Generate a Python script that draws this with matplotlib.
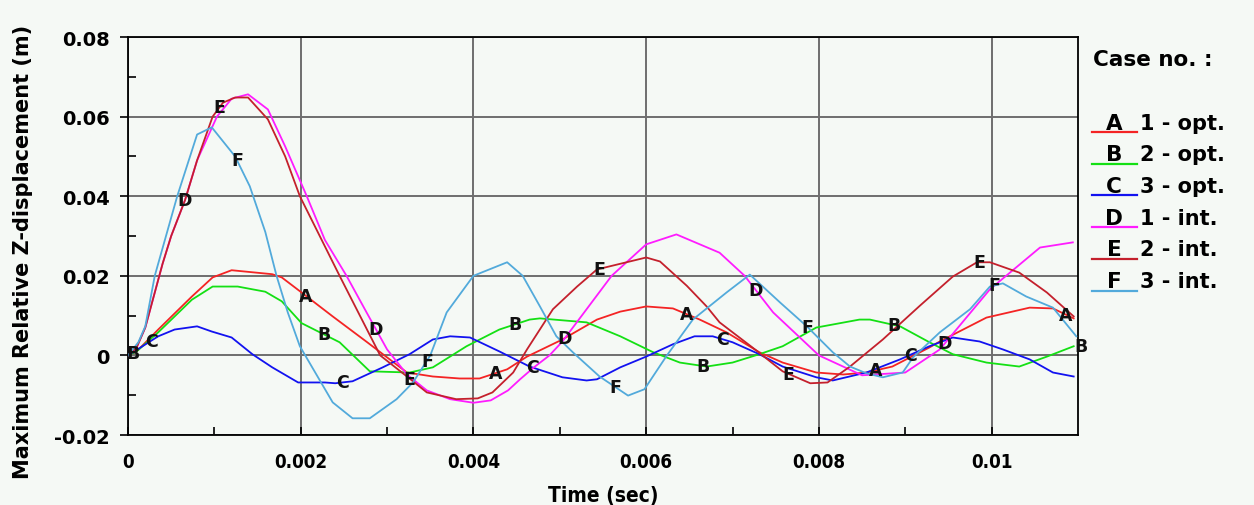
import numpy as np
import matplotlib
matplotlib.use("Agg")
import matplotlib.pyplot as plt
from matplotlib.lines import Line2D

# ---- data (time in s, displacement in m) ----
tA = [0, 0.0001, 0.00035, 0.00074, 0.00098, 0.0012, 0.00167, 0.00178, 0.00201, 0.00237,
      0.00277, 0.00323, 0.00353, 0.00384, 0.00407, 0.00439, 0.00462, 0.00503, 0.00543, 0.0057,
      0.006, 0.00631, 0.00662, 0.00693, 0.00731, 0.00758, 0.00797, 0.00828, 0.00855, 0.00885,
      0.00928, 0.0094, 0.00994, 0.01044, 0.01071, 0.01095]
yA = [0, 0.001, 0.0065, 0.0148, 0.0196, 0.0214, 0.0204, 0.0196, 0.0158, 0.0098,
      0.0033, -0.0043, -0.0053, -0.0058, -0.0058, -0.0035, -0.0003, 0.004, 0.009, 0.011,
      0.0123, 0.0118, 0.009, 0.0058, 0.0008, -0.0018, -0.0043, -0.0048, -0.0043, -0.0028,
      0.002, 0.0035, 0.0095, 0.012, 0.0118, 0.0093]

tB = [0, 0.0001, 0.00035, 0.00074, 0.00098, 0.00127, 0.00159, 0.00178, 0.00201, 0.00245,
      0.0028, 0.00326, 0.00353, 0.00392, 0.0043, 0.00465, 0.00477, 0.00531, 0.0057, 0.00608,
      0.00639, 0.0067, 0.007, 0.00731, 0.00758, 0.00797, 0.00847, 0.00859, 0.00894, 0.00928,
      0.00955, 0.00994, 0.01032, 0.01064, 0.01095]
yB = [0, 0.001, 0.0058, 0.014, 0.0173, 0.0173, 0.016, 0.0136, 0.0081, 0.0033,
      -0.004, -0.0043, -0.003, 0.0023, 0.0065, 0.009, 0.0093, 0.0083, 0.0048, 0.0008,
      -0.0018, -0.0028, -0.0018, 0.0003, 0.0023, 0.007, 0.009, 0.009, 0.0073, 0.0033,
      0.0003, -0.0018, -0.0028, -0.0003, 0.0023]

tC = [0, 0.00035, 0.00054, 0.0008, 0.00097, 0.0012, 0.00144, 0.00167, 0.00197, 0.00228,
      0.0024, 0.0026, 0.00295, 0.00326, 0.00353, 0.00373, 0.00396, 0.0043, 0.00465, 0.00503,
      0.00531, 0.00543, 0.0057, 0.006, 0.00631, 0.00656, 0.00677, 0.007, 0.00731, 0.00758,
      0.00797, 0.00816, 0.00855, 0.00894, 0.00928, 0.00955, 0.00986, 0.01013, 0.01044, 0.01071,
      0.01095]
yC = [0, 0.0048, 0.0065, 0.0073, 0.006, 0.0045, 0.0003, -0.003, -0.0068, -0.0068,
      -0.007, -0.0065, -0.003, 0.0003, 0.004, 0.0048, 0.0045, 0.001, -0.0028, -0.0055,
      -0.0063, -0.006, -0.003, -0.0003, 0.0028, 0.0048, 0.0048, 0.0033, 0.0003, -0.0028,
      -0.0055, -0.0063, -0.0043, -0.001, 0.0023, 0.0045, 0.0035, 0.0015, -0.001, -0.0043,
      -0.0053]

tD = [0, 0.0001, 0.0002, 0.0003, 0.0004, 0.0005, 0.00066, 0.0008, 0.00103, 0.0012,
      0.00139, 0.00162, 0.00182, 0.00207, 0.00228, 0.00253, 0.00277, 0.003, 0.00323, 0.00346,
      0.00373, 0.004, 0.0042, 0.0044, 0.00454, 0.0047, 0.00488, 0.00503, 0.0056, 0.006,
      0.00635, 0.00685, 0.00714, 0.00747, 0.008, 0.0085, 0.009, 0.0094, 0.00998, 0.01056,
      0.01094]
yD = [0, 0.002, 0.007, 0.015, 0.023, 0.030, 0.039, 0.049, 0.060, 0.0645,
      0.0656, 0.0618, 0.0525, 0.040, 0.029, 0.020, 0.0105, 0.0015, -0.0048, -0.0088,
      -0.011, -0.0119, -0.0113, -0.0088, -0.006, -0.003, 0, 0.0035, 0.020, 0.0279,
      0.0304, 0.0258, 0.020, 0.0108, 0, -0.005, -0.0043, 0.0015, 0.0166, 0.0271,
      0.0284]

tE = [0, 0.0001, 0.0002, 0.0003, 0.0004, 0.0005, 0.00066, 0.0008, 0.00098, 0.0011,
      0.00124, 0.00139, 0.00162, 0.00182, 0.00199, 0.00245, 0.00292, 0.00323, 0.00346, 0.0038,
      0.00405, 0.00422, 0.00446, 0.00462, 0.00492, 0.0052, 0.00543, 0.006, 0.00616, 0.00647,
      0.0067, 0.00685, 0.00723, 0.00758, 0.0079, 0.0081, 0.00836, 0.00874, 0.00917, 0.00955,
      0.00983, 0.00998, 0.01032, 0.01064, 0.01095]
yE = [0, 0.002, 0.007, 0.015, 0.023, 0.030, 0.039, 0.049, 0.060, 0.0635,
      0.0648, 0.0648, 0.0593, 0.050, 0.040, 0.020, 0, -0.0053, -0.0093, -0.011,
      -0.0108, -0.0093, -0.0043, 0.0015, 0.0116, 0.0173, 0.0216, 0.0246, 0.0236, 0.0175,
      0.0123, 0.0083, 0.002, -0.004, -0.007, -0.0068, -0.0028, 0.004, 0.0125, 0.0198,
      0.0234, 0.0234, 0.0208, 0.0158, 0.0098]

tF = [0, 0.00012, 0.0002, 0.00031, 0.00057, 0.0008, 0.00097, 0.00124, 0.00141, 0.00159,
      0.00172, 0.00185, 0.00199, 0.00237, 0.0026, 0.0028, 0.00311, 0.0033, 0.0035, 0.00369,
      0.004, 0.00439, 0.00457, 0.00477, 0.00496, 0.00515, 0.00546, 0.00579, 0.00598, 0.00624,
      0.00654, 0.00693, 0.0072, 0.00755, 0.00786, 0.00816, 0.00836, 0.00855, 0.00874, 0.00897,
      0.00909, 0.0094, 0.00975, 0.00998, 0.01013, 0.0104, 0.01071, 0.01098]
yF = [0, 0.0033, 0.0073, 0.020, 0.040, 0.0555, 0.0573, 0.050, 0.0425, 0.031,
      0.020, 0.0108, 0.0023, -0.0118, -0.0158, -0.0158, -0.011, -0.0068, 0, 0.0108,
      0.020, 0.0234, 0.020, 0.0123, 0.0048, 0.0008, -0.0053, -0.0101, -0.0085, 0,
      0.009, 0.0158, 0.0203, 0.0133, 0.0073, 0.0008, -0.0028, -0.0045, -0.0055, -0.0043,
      -0.0005, 0.0058, 0.0116, 0.0173, 0.0181, 0.0148, 0.012, 0.0048]

letters = ["A", "B", "C", "D", "E", "F"]
case_names = ["1 - opt.", "2 - opt.", "3 - opt.", "1 - int.", "2 - int.", "3 - int."]
colors = ["#f42424", "#14e014", "#1212f0", "#ff1cff", "#c4202c", "#52aadb"]
series_t = [tA, tB, tC, tD, tE, tF]
series_y = [yA, yB, yC, yD, yE, yF]

# times where the letter markers sit on each curve
mark_t = [
    [0.00206, 0.00426, 0.00647, 0.00866, 0.01086],
    [0.00006, 0.00227, 0.00448, 0.00666, 0.00887, 0.01104],
    [0.00027, 0.00248, 0.00468, 0.00688, 0.00906],
    [0.00066, 0.00287, 0.00506, 0.00727, 0.00946],
    [0.00106, 0.00326, 0.00546, 0.00765, 0.00986],
    [0.00126, 0.00346, 0.00564, 0.00787, 0.01003],
]

xticks = [0, 0.002, 0.004, 0.006, 0.008, 0.01]
xtick_labels = ["0", "0.002", "0.004", "0.006", "0.008", "0.01"]
yticks = [-0.02, 0, 0.02, 0.04, 0.06, 0.08]
ytick_labels = ["-0.02", "0", "0.02", "0.04", "0.06", "0.08"]

bg = "#f5f9f5"
W, H = 1254, 506
fig = plt.figure(figsize=(W / 100, H / 100), dpi=100, facecolor=bg)
ax = fig.add_axes([128 / W, 1 - 436 / H, 950 / W, 398 / H], facecolor=bg)

for t, y, c in zip(series_t, series_y, colors):
    ax.plot(t, y, color=c, lw=1.3, zorder=3)

for t, y, lt, m in zip(series_t, series_y, letters, mark_t):
    for tm in m:
        ax.text(tm, np.interp(tm, t, y), lt, ha="center", va="center",
                fontsize=12.5, fontweight="bold", color="#111111", zorder=4, clip_on=False)

ax.set_xlim(0, 0.011)
ax.set_ylim(-0.02, 0.08)
ax.set_xticks(xticks)
ax.set_xticklabels(xtick_labels, fontsize=13.5, fontweight="bold", fontstretch="condensed")
ax.set_xticks(np.arange(0.001, 0.011, 0.002), minor=True)
ax.set_yticks(yticks)
ax.set_yticklabels(ytick_labels, fontsize=14, fontweight="bold")
ax.set_yticks(np.arange(-0.01, 0.08, 0.02), minor=True)
ax.tick_params(axis="y", which="major", direction="out", length=6, width=1.2, pad=7)
ax.tick_params(axis="x", which="major", direction="in", length=6, width=1.2, pad=12)
ax.tick_params(which="minor", direction="in", length=6, width=1.2)
ax.grid(True, which="major", color="#6e6e6e", lw=1.4, zorder=1)
for s in ax.spines.values():
    s.set_color("black")
    s.set_linewidth(1.3)

ax.set_xlabel("Time (sec)", fontsize=15, fontweight="bold", fontstretch="condensed")
ax.xaxis.set_label_coords(0.5, -0.125)
ax.set_ylabel("Maximum Relative Z-displacement (m)", fontsize=15, fontweight="bold")
ax.yaxis.set_label_coords(-0.1, 0.462)

# hand-drawn legend on the right
fig.text(1093 / W, 1 - 60 / H, "Case no. :", fontsize=15.5, fontweight="bold", va="center")
for i, (lt, nm, c) in enumerate(zip(letters, case_names, colors)):
    yc = 123.5 + 31.7 * i
    fig.add_artist(Line2D([1092 / W, 1137 / W], [1 - (yc + 9.5) / H] * 2, color=c, lw=1.6))
    fig.text(1114 / W, 1 - yc / H, lt, fontsize=15.5, fontweight="bold", ha="center", va="center")
    fig.text(1140 / W, 1 - yc / H, nm, fontsize=15, fontweight="bold", va="center")

fig.savefig("out.png", dpi=100, facecolor=bg)
